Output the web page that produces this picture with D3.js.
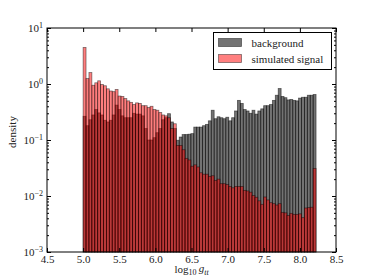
<!DOCTYPE html>
<html>
<head>
<meta charset="utf-8">
<script src="https://cdn.jsdelivr.net/npm/d3@7"></script>
<style>
  body { margin: 0; background: #fff; }
  svg text { font-family: "Liberation Serif", "DejaVu Serif", serif; }
  .axis text { fill: #222; font-size: 11px; }
  .axis line { stroke: #000; }
</style>
</head>
<body>
<svg id="chart"></svg>
<script>
// histogram bins: 80 bins from 5.0, width 0.0403 (log10 g_tt)
const binStart = 5.0;
const binWidth = 0.0403;

const background = [
  0.265, 0.18, 0.23, 0.28, 0.35, 0.305, 0.28, 0.225, 0.21, 0.225,
  0.28, 0.42, 0.35, 0.27, 0.25, 0.25, 0.25, 0.30, 0.29, 0.29,
  0.27, 0.16, 0.10, 0.10, 0.11, 0.135, 0.16, 0.23, 0.25, 0.295,
  0.21, 0.16, 0.099, 0.113, 0.125, 0.125, 0.127, 0.13, 0.17, 0.17,
  0.17, 0.18, 0.19, 0.22, 0.34, 0.24, 0.26, 0.25, 0.24, 0.255,
  0.22, 0.25, 0.33, 0.51, 0.45, 0.35, 0.33, 0.30, 0.34, 0.29,
  0.33, 0.36, 0.41, 0.41, 0.43, 0.51, 0.63, 0.83, 0.60, 0.57,
  0.52, 0.53, 0.51, 0.50, 0.56, 0.58, 0.58, 0.63, 0.63, 0.65
];

const signal = [
  4.5, 1.25, 1.6, 0.95, 1.05, 1.14, 0.98, 0.93, 0.82, 0.75,
  0.73, 0.80, 0.61, 0.60, 0.55, 0.50, 0.47, 0.43, 0.46, 0.45,
  0.41, 0.41, 0.38, 0.40, 0.35, 0.34, 0.31, 0.28, 0.27, 0.25,
  0.16, 0.195, 0.080, 0.080, 0.067, 0.047, 0.044, 0.034, 0.036, 0.033,
  0.026, 0.0245, 0.0245, 0.0224, 0.023, 0.019, 0.020, 0.0166, 0.0166, 0.016,
  0.0148, 0.014, 0.0148, 0.0148, 0.0148, 0.0126, 0.0123, 0.0117, 0.0102, 0.0095,
  0.0082, 0.0071, 0.0096, 0.0085, 0.0076, 0.0073, 0.0069, 0.0073, 0.0051, 0.0050,
  0.0045, 0.0049, 0.0047, 0.0047, 0.0048, 0.0041, 0.0061, 0.0062, 0.0063, 0.031
];

const xTicks = [4.5, 5.0, 5.5, 6.0, 6.5, 7.0, 7.5, 8.0, 8.5];
const yTicks = [1e-3, 1e-2, 1e-1, 1e0, 1e1];
const yExponents = ['\u22123', '\u22122', '\u22121', '0', '1'];
const legendLabels = ['background', 'simulated signal'];

const totalWidth = 374;
const totalHeight = 280;
const margin = {top: 28, right: 38, bottom: 28, left: 47};
const width = totalWidth - margin.left - margin.right;
const height = totalHeight - margin.top - margin.bottom;

const svg = d3.select('#chart')
  .attr('width', totalWidth)
  .attr('height', totalHeight);

const chart = svg.append('g')
  .attr('transform', `translate(${margin.left}, ${margin.top})`);

const x = d3.scaleLinear()
  .domain([4.5, 8.5])
  .range([0, width]);

const y = d3.scaleLog()
  .domain([1e-3, 1e1])
  .range([height, 0]);

const bins = d => binStart + binWidth * d;

// background histogram
chart.append('g')
  .selectAll('rect')
  .data(background)
  .enter().append('rect')
    .attr('x', (d, i) => x(bins(i)))
    .attr('width', (d, i) => x(bins(i + 1)) - x(bins(i)))
    .attr('y', d => y(d))
    .attr('height', d => height - y(d))
    .style('fill', '#000')
    .style('fill-opacity', 0.55)
    .style('stroke', '#000')
    .style('stroke-opacity', 0.55)
    .style('stroke-width', 0.8);

// signal histogram
chart.append('g')
  .selectAll('rect')
  .data(signal)
  .enter().append('rect')
    .attr('x', (d, i) => x(bins(i)))
    .attr('width', (d, i) => x(bins(i + 1)) - x(bins(i)))
    .attr('y', d => y(d))
    .attr('height', d => height - y(d))
    .style('fill', '#ff0000')
    .style('fill-opacity', 0.5)
    .style('stroke', '#000')
    .style('stroke-opacity', 0.5)
    .style('stroke-width', 0.8);

// minor log ticks
const minorTicks = [];
for (let e = -3; e < 1; e++) {
  for (let m = 2; m < 10; m++) minorTicks.push(m * Math.pow(10, e));
}

const tickFmt = d3.format('.1f');

chart.append('g')
  .attr('class', 'x axis')
  .attr('transform', `translate(0, ${height})`)
  .call(d3.axisBottom(x).tickValues(xTicks).tickFormat(tickFmt)
    .tickSizeInner(-4).tickSizeOuter(0).tickPadding(3))
  .call(g => g.select('.domain').remove());

chart.append('g')
  .attr('class', 'x axis')
  .call(d3.axisTop(x).tickValues(xTicks).tickFormat('')
    .tickSizeInner(-4).tickSizeOuter(0))
  .call(g => g.select('.domain').remove());

const yAxis = chart.append('g')
  .attr('class', 'y axis')
  .call(d3.axisLeft(y).tickValues(yTicks).tickFormat('')
    .tickSizeInner(-4).tickSizeOuter(0).tickPadding(4))
  .call(g => g.select('.domain').remove());

yAxis.selectAll('.tick text').each(function(d, i) {
  const t = d3.select(this).attr('x', -4);
  t.append('tspan').text('10');
  t.append('tspan').attr('dy', '-0.45em').style('font-size', '8px').text(yExponents[i]);
});

chart.append('g')
  .attr('class', 'y axis')
  .call(d3.axisLeft(y).tickValues(minorTicks).tickFormat('')
    .tickSizeInner(-2).tickSizeOuter(0))
  .call(g => g.select('.domain').remove());

chart.append('g')
  .attr('class', 'y axis')
  .attr('transform', `translate(${width}, 0)`)
  .call(d3.axisRight(y).tickValues(yTicks).tickFormat('')
    .tickSizeInner(-4).tickSizeOuter(0))
  .call(g => g.select('.domain').remove());

chart.append('g')
  .attr('class', 'y axis')
  .attr('transform', `translate(${width}, 0)`)
  .call(d3.axisRight(y).tickValues(minorTicks).tickFormat('')
    .tickSizeInner(-2).tickSizeOuter(0))
  .call(g => g.select('.domain').remove());

// frame
chart.append('rect')
  .attr('width', width)
  .attr('height', height)
  .style('fill', 'none')
  .style('stroke', '#000')
  .style('stroke-width', 1);

// axis labels
const xLabel = svg.append('text')
  .attr('x', margin.left + width / 2)
  .attr('y', 273)
  .attr('text-anchor', 'middle')
  .style('font-size', '11px')
  .style('fill', '#222');
xLabel.append('tspan').text('log');
xLabel.append('tspan').attr('dy', '0.3em').style('font-size', '8px').text('10');
xLabel.append('tspan').attr('dy', '-0.3em').text('\u2009');
xLabel.append('tspan').style('font-style', 'italic').text('g');
xLabel.append('tspan').attr('dy', '0.3em').style('font-size', '8px').style('font-style', 'italic').text('tt');

svg.append('text')
  .attr('transform', `translate(16, ${margin.top + height / 2 - 8}) rotate(-90)`)
  .attr('text-anchor', 'middle')
  .style('font-size', '11px')
  .style('fill', '#222')
  .text('density');

// legend
const legend = svg.append('g')
  .attr('transform', 'translate(213.5, 32.5)');

legend.append('rect')
  .attr('width', 118)
  .attr('height', 37)
  .style('fill', '#fff')
  .style('stroke', '#000')
  .style('stroke-width', 1);

const legendColors = [
  {fill: '#000', opacity: 0.55},
  {fill: '#ff0000', opacity: 0.5}
];

const items = legend.selectAll('.item')
  .data(legendLabels)
  .enter().append('g')
    .attr('class', 'item')
    .attr('transform', (d, i) => `translate(5, ${6 + i * 16})`);

items.append('rect')
  .attr('width', 23)
  .attr('height', 8)
  .style('fill', (d, i) => legendColors[i].fill)
  .style('fill-opacity', (d, i) => legendColors[i].opacity)
  .style('stroke', '#000')
  .style('stroke-opacity', (d, i) => legendColors[i].opacity)
  .style('stroke-width', 0.8);

items.append('text')
  .attr('x', 33)
  .attr('y', 8)
  .style('font-size', '11px')
  .style('fill', '#222')
  .text(d => d);
</script>
</body>
</html>
